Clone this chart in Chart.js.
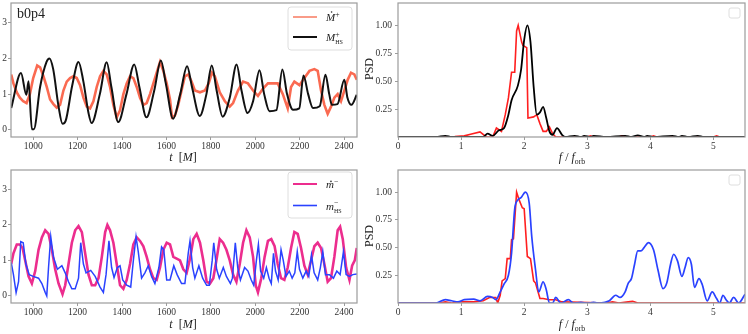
<!DOCTYPE html>
<html>
<head>
<meta charset="utf-8">
<script src="https://cdn.jsdelivr.net/npm/chart.js@4.4.0/dist/chart.umd.min.js"></script>
<style>
  body { margin: 0; background: #fff; width: 748px; height: 334px; overflow: hidden; position: relative; }
  canvas { position: absolute; }
</style>
</head>
<body>
<canvas id="c1" width="370" height="167" style="left:0;top:0"></canvas>
<canvas id="c2" width="388" height="167" style="left:360px;top:0"></canvas>
<canvas id="c3" width="370" height="167" style="left:0;top:167px"></canvas>
<canvas id="c4" width="388" height="167" style="left:360px;top:167px"></canvas>
<script>
// ticks
var tTicks = [1000, 1200, 1400, 1600, 1800, 2000, 2200, 2400];
var tsTicks = [0, 1, 2, 3];
var fTicks = [0, 1, 2, 3, 4, 5];
var psdTicks = [0.25, 0.5, 0.75, 1.0];

// top left: Mdot+ (red, noisy)
var mdotPlusT = [901, 911, 926, 940, 955, 970, 985, 1000, 1018, 1031,
  1046, 1061, 1076, 1091, 1106, 1121, 1136, 1151, 1166, 1181,
  1196, 1211, 1226, 1241, 1256, 1271, 1286, 1301, 1316, 1331,
  1346, 1361, 1376, 1391, 1406, 1421, 1436, 1451, 1466, 1481,
  1496, 1511, 1526, 1541, 1556, 1571, 1586, 1601, 1616, 1625,
  1638, 1653, 1668, 1683, 1698, 1713, 1728, 1751, 1773, 1790,
  1805, 1818, 1840, 1863, 1885, 1900, 1922, 1945, 1967, 1990,
  2012, 2034, 2057, 2079, 2101, 2124, 2146, 2161, 2176, 2199,
  2221, 2244, 2266, 2281, 2296, 2311, 2326, 2341, 2356, 2371,
  2386, 2401, 2416, 2431, 2446, 2457];
var mdotPlus = [1.55, 1.3, 1.05, 0.9, 0.8, 0.75, 1.0, 1.45, 1.8, 1.75,
  1.5, 1.2, 0.85, 0.72, 0.62, 0.7, 1.1, 1.35, 1.45, 1.5,
  1.45, 1.25, 0.9, 0.65, 0.6, 0.8, 1.2, 1.5, 1.65, 1.55,
  1.2, 0.7, 0.35, 0.55, 1.0, 1.3, 1.5, 1.45, 1.2, 0.9,
  0.7, 0.75, 1.0, 1.3, 1.6, 1.9, 1.65, 1.3, 0.85, 0.35,
  0.4, 0.7, 1.1, 1.5, 1.55, 1.35, 1.1, 1.05, 1.1, 1.3,
  1.6, 1.5, 1.05, 0.8, 0.65, 0.75, 1.1, 1.35, 1.3, 1.1,
  0.95, 1.15, 1.3, 1.3, 1.3, 1.0, 0.6, 1.2, 1.35, 1.25,
  1.45, 1.65, 1.7, 1.65, 1.1, 0.7, 0.45, 0.65, 0.9, 1.0,
  0.8, 1.1, 1.4, 1.6, 1.55, 1.4];

// top left: M_HS+ (black)
var mhsPlusT = [901, 945, 969, 979, 994, 1003, 1031, 1060, 1073, 1090,
  1114, 1132, 1146, 1175, 1204, 1226, 1249, 1263, 1300, 1331,
  1352, 1383, 1420, 1455, 1478, 1510, 1545, 1575, 1597, 1630,
  1662, 1693, 1715, 1750, 1780, 1804, 1826, 1853, 1885, 1916,
  1938, 1965, 1990, 2019, 2040, 2064, 2095, 2122, 2143, 2170,
  2198, 2217, 2238, 2260, 2290, 2316, 2333, 2345, 2370, 2401,
  2415, 2433, 2457];
var mhsPlus = [0.61, 1.59, 0.98, 1.36, 0.02, 0.02, 1.2, 1.9, 2.0, 1.7,
  0.66, 0.17, 0.25, 1.22, 1.9, 1.35, 0.47, 0.19, 1.0, 1.89,
  1.2, 0.22, 1.0, 1.83, 1.2, 0.35, 1.1, 1.94, 1.3, 0.31,
  1.0, 1.78, 1.2, 0.39, 1.0, 1.8, 1.1, 0.37, 0.9, 1.83,
  1.1, 0.47, 0.8, 1.67, 1.0, 0.52, 0.55, 1.69, 1.0, 0.56,
  0.6, 1.52, 1.0, 0.61, 0.66, 1.54, 1.0, 0.7, 0.72, 1.4,
  0.9, 0.7, 0.98];

// bottom left: mdot- (pink, noisy)
var mdotMinusT = [901, 911, 926, 940, 952, 964, 979, 994, 1009, 1024,
  1039, 1054, 1069, 1084, 1099, 1114, 1132, 1144, 1159, 1174,
  1189, 1204, 1219, 1234, 1249, 1264, 1279, 1294, 1309, 1324,
  1334, 1346, 1361, 1376, 1391, 1406, 1421, 1436, 1451, 1466,
  1481, 1496, 1511, 1526, 1541, 1556, 1571, 1586, 1601, 1616,
  1631, 1646, 1661, 1676, 1691, 1706, 1721, 1736, 1751, 1766,
  1781, 1796, 1811, 1826, 1840, 1855, 1870, 1885, 1900, 1915,
  1930, 1945, 1960, 1975, 1990, 2002, 2012, 2027, 2042, 2057,
  2072, 2087, 2101, 2116, 2131, 2146, 2161, 2176, 2191, 2206,
  2221, 2236, 2251, 2266, 2281, 2296, 2311, 2326, 2341, 2356,
  2371, 2382, 2394, 2409, 2424, 2436, 2448, 2457];
var mdotMinus = [0.9, 1.2, 1.45, 1.45, 1.35, 1.0, 0.55, 0.35, 0.7, 1.3,
  1.65, 1.85, 1.75, 1.3, 0.75, 0.35, 0.05, 0.3, 0.9, 1.5,
  1.85, 1.97, 1.8, 1.2, 0.6, 0.3, 0.3, 0.5, 1.1, 1.8,
  2.0, 1.85, 1.5, 0.9, 0.3, 0.2, 0.45, 0.9, 1.45, 1.65,
  1.55, 1.4, 1.1, 0.75, 0.5, 0.45, 0.8, 1.3, 1.5, 1.45,
  1.1, 1.05, 1.0, 0.75, 0.65, 1.05, 1.6, 1.75, 1.5, 1.0,
  0.4, 0.35, 0.5, 1.05, 1.6, 1.5, 1.3, 1.0, 0.6, 0.4,
  0.9, 1.5, 1.85, 1.65, 1.1, 0.3, 0.1, 0.5, 1.1, 1.55,
  1.6, 1.4, 0.9, 0.5, 0.45, 0.8, 1.35, 1.8, 1.75, 1.35,
  0.85, 0.6, 1.0, 1.4, 1.5, 1.35, 0.9, 0.4, 0.5, 1.1,
  1.85, 1.95, 1.6, 0.8, 0.45, 0.85, 1.0, 1.35];

// bottom left: m_HS- (blue)
var mhsMinusT = [901, 911, 923, 934, 944, 955, 967, 982, 1000, 1024,
  1039, 1054, 1061, 1069, 1079, 1091, 1109, 1129, 1144, 1159,
  1174, 1189, 1204, 1214, 1226, 1238, 1259, 1279, 1301, 1316,
  1328, 1341, 1353, 1364, 1379, 1391, 1403, 1421, 1439, 1451,
  1463, 1473, 1488, 1503, 1518, 1533, 1548, 1566, 1578, 1588,
  1601, 1616, 1633, 1648, 1668, 1683, 1698, 1706, 1718, 1728,
  1746, 1763, 1781, 1793, 1806, 1813, 1826, 1838, 1856, 1870,
  1888, 1897, 1910, 1921, 1933, 1952, 1967, 1982, 1993, 2005,
  2014, 2024, 2038, 2050, 2062, 2072, 2082, 2091, 2103, 2116,
  2126, 2138, 2153, 2166, 2178, 2189, 2199, 2214, 2229, 2241,
  2253, 2265, 2281, 2293, 2304, 2316, 2334, 2352, 2367, 2382,
  2397, 2409, 2424, 2439, 2457];
var mhsMinus = [0.94, 0.6, 0.09, 0.4, 1.53, 1.5, 0.9, 0.6, 0.55, 0.5,
  0.35, 0.1, 0.0, 0.8, 1.67, 1.1, 0.75, 0.85, 0.65, 0.4,
  0.2, 0.2, 0.5, 1.5, 0.9, 0.65, 0.72, 0.55, 0.25, 0.1,
  0.6, 1.55, 0.8, 0.52, 0.8, 0.85, 0.45, 0.3, 0.25, 1.0,
  1.67, 1.25, 0.5, 0.65, 0.85, 0.55, 0.35, 0.8, 1.38, 1.3,
  0.45, 0.45, 0.85, 0.6, 0.35, 0.35, 1.2, 1.55, 0.8, 0.5,
  0.85, 0.5, 0.3, 0.3, 1.0, 1.5, 0.75, 0.5, 0.8, 0.55,
  0.35, 0.5, 1.5, 0.8, 0.45, 0.8, 0.7, 0.45, 0.3, 1.0,
  1.45, 0.7, 0.5, 0.8, 0.5, 0.35, 1.2, 0.7, 0.45, 1.3,
  1.0, 0.55, 0.7, 0.5, 0.65, 1.25, 0.75, 0.5, 0.7, 0.55,
  1.15, 0.65, 0.45, 0.8, 1.25, 0.6, 0.6, 0.5, 0.7, 0.6,
  1.25, 0.6, 0.55, 0.6, 0.62];

// top right PSD: red (Mdot+) and black (M_HS+)
var fRedTop = [0, 0.6, 0.9, 1.05, 1.15, 1.3, 1.4, 1.5, 1.56, 1.64,
  1.7, 1.75, 1.8, 1.85, 1.88, 1.905, 1.96, 1.98, 2.04, 2.06,
  2.15, 2.2, 2.25, 2.3, 2.35, 2.4, 2.45, 2.5, 3.0, 3.05,
  3.1, 3.5, 3.55, 3.6, 4.0, 4.05, 4.1, 5.0, 5.05, 5.1, 5.5];
var psdRedTop = [0, 0, 0.005, 0.01, 0.025, 0.045, 0, 0, 0.08, 0.05,
  0.2, 0.35, 0.58, 0.58, 0.95, 1.0, 0.85, 0.82, 0.8, 0.17,
  0.18, 0.2, 0.12, 0.05, 0.05, 0.09, 0.03, 0, 0, 0.01,
  0, 0, 0.01, 0, 0, 0.01, 0, 0, 0.01, 0, 0];
var fBlackTop = [0, 0.6, 0.75, 0.85, 1.0, 1.35, 1.42, 1.5, 1.6, 1.68,
  1.75, 1.8, 1.9, 1.95, 2.0, 2.05, 2.1, 2.15, 2.2, 2.25,
  2.3, 2.35, 2.4, 2.45, 2.52, 2.6, 2.65, 2.8, 2.9, 2.95,
  3.05, 3.1, 3.3, 3.6, 3.7, 3.8, 3.9, 3.95, 4.05, 4.35,
  4.45, 4.5, 4.6, 4.75, 4.85, 5.5];
var psdBlackTop = [0, 0, 0.01, 0, 0, 0, 0.03, 0.01, 0.06, 0.08,
  0.2, 0.33, 0.46, 0.6, 0.87, 1.0, 0.85, 0.45, 0.2, 0.22,
  0.27, 0.17, 0.05, 0.02, 0.08, 0.02, 0, 0.01, 0, 0.01,
  0, 0.01, 0, 0.01, 0, 0.015, 0, 0.01, 0, 0.01,
  0, 0.01, 0, 0.01, 0, 0];

// bottom right PSD: red (mdot-) and blue (m_HS-)
var fRedBot = [0, 0.65, 0.75, 0.85, 1.0, 1.2, 1.35, 1.45, 1.55, 1.58,
  1.62, 1.65, 1.7, 1.73, 1.78, 1.8, 1.83, 1.88, 1.92, 1.97,
  2.0, 2.05, 2.1, 2.15, 2.18, 2.25, 2.3, 2.4, 2.5, 2.6,
  3.3, 3.4, 3.5, 3.65, 3.72, 3.8, 5.5];
var psdRedBot = [0, 0, 0.01, 0, 0.01, 0.01, 0.02, 0.05, 0.05, 0,
  0.07, 0.2, 0.22, 0.4, 0.4, 0.57, 0.58, 1.0, 0.93, 0.86,
  0.85, 0.42, 0.4, 0.2, 0.18, 0.04, 0.04, 0.03, 0.03, 0.01,
  0, 0.01, 0, 0.01, 0.015, 0, 0];
var fBlueBot = [0, 0.6, 0.75, 0.85, 0.95, 1.05, 1.2, 1.3, 1.42, 1.5,
  1.55, 1.62, 1.68, 1.75, 1.8, 1.85, 1.9, 1.95, 2.02, 2.08,
  2.12, 2.18, 2.23, 2.3, 2.35, 2.4, 2.45, 2.5, 2.58, 2.7,
  2.78, 2.9, 3.0, 3.1, 3.2, 3.35, 3.45, 3.52, 3.6, 3.65,
  3.7, 3.75, 3.8, 3.85, 3.9, 3.97, 4.05, 4.12, 4.2, 4.26,
  4.32, 4.37, 4.43, 4.5, 4.55, 4.6, 4.65, 4.7, 4.77, 4.82,
  4.9, 4.98, 5.05, 5.1, 5.15, 5.2, 5.25, 5.32, 5.4, 5.5];
var psdBlueBot = [0, 0, 0.03, 0.02, 0.01, 0.03, 0.035, 0.02, 0.06, 0.05,
  0.03, 0.1, 0.17, 0.25, 0.45, 0.85, 0.93, 0.95, 1.0, 0.9,
  0.6, 0.3, 0.1, 0.19, 0.12, 0, 0, 0.05, 0, 0.03,
  0, 0.005, 0, 0.005, 0, 0.02, 0.07, 0.05, 0.1, 0.18,
  0.22, 0.35, 0.47, 0.47, 0.5, 0.545, 0.48, 0.3, 0.13, 0.18,
  0.35, 0.44, 0.38, 0.24, 0.32, 0.41, 0.35, 0.14, 0.22, 0.17,
  0.02, 0.1, 0.04, 0, 0.07, 0.03, 0, 0.05, 0, 0.08];

var SERIF = '"Liberation Serif", "DejaVu Serif", serif';
var GREY = '#9c9c9c';

function pts(xs, ys) {
  return xs.map(function (x, i) { return { x: x, y: ys[i] }; });
}

function line(data, color, width, smooth, order) {
  return {
    data: data, borderColor: color, borderWidth: width, pointRadius: 0, fill: false,
    cubicInterpolationMode: smooth ? 'monotone' : 'default', tension: 0, order: order
  };
}

function axis(min, max, ticks, fmt, size, isX, pad) {
  return {
    type: 'linear', min: min, max: max,
    border: { display: false },
    grid: { display: true, drawOnChartArea: false, drawTicks: true, tickLength: 3, color: GREY },
    ticks: { font: { family: SERIF, size: 9.5 }, color: '#333', padding: pad, maxRotation: 0, autoSkip: false, callback: fmt },
    afterBuildTicks: function (a) { a.ticks = ticks.map(function (v) { return { value: v }; }); },
    afterFit: function (a) {
      if (isX) a.height = size; else a.width = size;
      a.paddingTop = a.paddingBottom = a.paddingLeft = a.paddingRight = 0;
    }
  };
}

// draw a small formula: parts are {s, it, sc, dy, nx, dot, low}
function mathText(ctx, x, y, parts, size, align) {
  var w = 0;
  parts.forEach(function (p) {
    ctx.font = (p.it ? 'italic ' : '') + (size * (p.sc || 1)) + 'px ' + SERIF;
    p.w = ctx.measureText(p.s).width;
    if (!p.nx) w += p.w;
  });
  var cx = align === 'center' ? x - w / 2 : x;
  parts.forEach(function (p) {
    ctx.font = (p.it ? 'italic ' : '') + (size * (p.sc || 1)) + 'px ' + SERIF;
    ctx.fillText(p.s, cx, y + (p.dy || 0));
    if (p.dot) {
      ctx.beginPath();
      ctx.arc(cx + p.w / 2 + 1, y - size * (p.low ? 0.6 : 0.82), 0.8, 0, Math.PI * 2);
      ctx.fill();
    }
    if (!p.nx) cx += p.w;
  });
}

function roundBox(ctx, x, y, w, h, r) {
  ctx.beginPath();
  ctx.moveTo(x + r, y);
  ctx.arcTo(x + w, y, x + w, y + h, r);
  ctx.arcTo(x + w, y + h, x, y + h, r);
  ctx.arcTo(x, y + h, x, y, r);
  ctx.arcTo(x, y, x + w, y, r);
  ctx.closePath();
}

var frame = {
  id: 'frame',
  afterDraw: function (chart) {
    var a = chart.chartArea, ctx = chart.ctx;
    ctx.save();
    ctx.strokeStyle = GREY;
    ctx.lineWidth = 1.2;
    ctx.strokeRect(a.left, a.top, a.right - a.left, a.bottom - a.top);
    ctx.restore();
  }
};

function decor(fn) {
  return { id: 'decor', afterDraw: function (chart) { var ctx = chart.ctx; ctx.save(); ctx.fillStyle = '#222'; fn(ctx); ctx.restore(); } };
}

function tsLegend(ctx, box, items) {
  roundBox(ctx, box[0], box[1], box[2], box[3], 3);
  ctx.fillStyle = 'rgba(255,255,255,0.85)';
  ctx.fill();
  ctx.strokeStyle = '#dedede';
  ctx.lineWidth = 1;
  ctx.stroke();
  items.forEach(function (it) {
    ctx.strokeStyle = it.color;
    ctx.lineWidth = it.width;
    ctx.beginPath();
    ctx.moveTo(box[0] + 5, it.y);
    ctx.lineTo(box[0] + 29, it.y);
    ctx.stroke();
    ctx.fillStyle = '#222';
    mathText(ctx, box[0] + 38, it.y + 4, it.parts, 11, 'left');
  });
}

function emptyLegend(ctx) {
  roundBox(ctx, 369, 8, 11, 10, 2);
  ctx.fillStyle = 'rgba(255,255,255,0.85)';
  ctx.fill();
  ctx.strokeStyle = '#dedede';
  ctx.lineWidth = 1;
  ctx.stroke();
}

function tLabel(ctx) {
  mathText(ctx, 183, 161, [{ s: 't', it: true }, { s: '  [' }, { s: 'M', it: true }, { s: ']' }], 12, 'center');
}

function fLabel(ctx) {
  mathText(ctx, 212, 161, [{ s: 'f', it: true }, { s: ' / ' }, { s: 'f', it: true }, { s: 'orb', sc: 0.65, dy: 2.5 }], 12, 'center');
}

function psdLabel(ctx) {
  ctx.save();
  ctx.fillStyle = '#222';
  ctx.translate(13, 69);
  ctx.rotate(-Math.PI / 2);
  ctx.font = '12px ' + SERIF;
  ctx.textAlign = 'center';
  ctx.fillText('PSD', 0, 0);
  ctx.restore();
}

function tsChart(id, sets, xh, top, extra) {
  return new Chart(document.getElementById(id), {
    type: 'line',
    data: { datasets: sets },
    options: {
      responsive: false, animation: false, events: [],
      layout: { padding: { top: top, right: 13, left: 0, bottom: 0 } },
      plugins: { legend: { display: false }, tooltip: { enabled: false } },
      scales: {
        x: axis(900, 2458, tTicks, function (v) { return String(v); }, xh, true, 1),
        y: axis(-0.2, 3.55, tsTicks, function (v) { return String(v); }, 11, false, 1)
      }
    },
    plugins: [frame, decor(extra)]
  });
}

function psdChart(id, sets, xh, top) {
  return new Chart(document.getElementById(id), {
    type: 'line',
    data: { datasets: sets },
    options: {
      responsive: false, animation: false, events: [],
      layout: { padding: { top: top, right: 3, left: 0, bottom: 0 } },
      plugins: { legend: { display: false }, tooltip: { enabled: false } },
      scales: {
        x: axis(0, 5.5, fTicks, function (v) { return String(v); }, xh, true, 1),
        y: axis(0, 1.2, psdTicks, function (v) { return v.toFixed(2); }, 38, false, 3)
      }
    },
    plugins: [frame, decor(function (ctx) { fLabel(ctx); emptyLegend(ctx); psdLabel(ctx); })]
  });
}

var RED_TS = 'rgba(249,80,50,0.85)', BLACK = '#111111', PINK = '#ec2d8e', BLUE = '#2a42ff', RED = '#ff1f1f';

tsChart('c1', [
  line(pts(mhsPlusT, mhsPlus), BLACK, 2, true, 0),
  line(pts(mdotPlusT, mdotPlus), RED_TS, 2.6, false, 1)
], 30, 3, function (ctx) {
  ctx.font = '14px ' + SERIF;
  ctx.fillText('b0p4', 17, 18);
  tLabel(ctx);
  tsLegend(ctx, [288, 7, 64, 43], [
    { color: '#f8826a', width: 1.6, y: 17, parts: [{ s: 'M', it: true, dot: true }, { s: '+', sc: 0.7, dy: -4.5 }] },
    { color: BLACK, width: 2, y: 37, parts: [{ s: 'M', it: true }, { s: '+', sc: 0.7, dy: -4.5, nx: true }, { s: 'HS', sc: 0.55, dy: 3 }] }
  ]);
});

psdChart('c2', [
  line(pts(fBlackTop, psdBlackTop), '#000', 1.8, true, 0),
  line(pts(fRedTop, psdRedTop), RED, 1.6, false, 1)
], 30, 3);

tsChart('c3', [
  line(pts(mhsMinusT, mhsMinus), BLUE, 1.5, false, 0),
  line(pts(mdotMinusT, mdotMinus), PINK, 2.6, false, 1)
], 31, 3, function (ctx) {
  tLabel(ctx);
  tsLegend(ctx, [288, 5, 64, 46], [
    { color: PINK, width: 2, y: 17, parts: [{ s: 'm', it: true, dot: true, low: true }, { s: '\u2212', sc: 0.7, dy: -4.5 }] },
    { color: BLUE, width: 1.6, y: 38.5, parts: [{ s: 'm', it: true }, { s: '\u2212', sc: 0.7, dy: -4.5, nx: true }, { s: 'HS', sc: 0.55, dy: 3 }] }
  ]);
});

psdChart('c4', [
  line(pts(fBlueBot, psdBlueBot), BLUE, 1.7, true, 0),
  line(pts(fRedBot, psdRedBot), RED, 1.6, false, 1)
], 31, 3);
</script>
</body>
</html>
